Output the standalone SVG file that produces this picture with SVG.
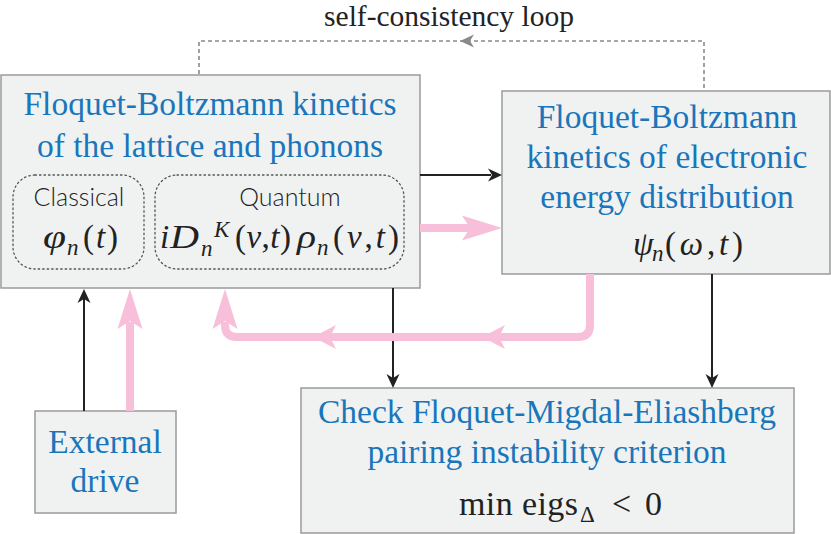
<svg xmlns="http://www.w3.org/2000/svg" xmlns:xlink="http://www.w3.org/1999/xlink" width="831" height="534" viewBox="0 0 831 534">
<style>
.box{fill:#f0f2f2;stroke:#9a9a9a;stroke-width:1.5}
.inner{fill:none;stroke:#555;stroke-width:1.3;stroke-dasharray:1.5 3;stroke-linecap:round}
.t{font-family:"Liberation Serif","Times New Roman",serif;font-size:33.5px;fill:#1a76bb;text-anchor:middle}
.m{font-family:"Liberation Serif","Times New Roman",serif;font-size:33px;fill:#222}
.mc{text-anchor:middle}
.it{font-style:italic}
.s{font-size:23px}
.sans{font-family:Lato,"Open Sans",sans-serif;font-weight:300;font-size:25px;fill:#222;text-anchor:middle}
.blk{stroke:#222;stroke-width:2;fill:none}
.pnk{stroke:#f8bfdb;stroke-width:8;fill:none}
.dsh{stroke:#8a8a8a;stroke-width:1.6;fill:none;stroke-dasharray:4 3}
</style>
<defs>
<path id="hb" d="M0,0 L-14,-6.5 L-10,0 L-14,6.5 Z" fill="#222"/>
<path id="hg" d="M0,0 L-14,-6.5 L-10,0 L-14,6.5 Z" fill="#8a8a8a"/>
<path id="hpl" d="M0,0 L-40,-12.5 L-32,0 L-40,12.5 Z" fill="#f8bfdb"/>
<path id="hps" d="M0,0 L-23,-12 L-17,0 L-23,12 Z" fill="#f8bfdb"/>
</defs>

<text x="449" y="26" class="m mc" style="font-size:29.5px">self-consistency loop</text>

<g id="lattice">
<rect class="box" x="1" y="75" width="419" height="213"/>
<text class="t" x="210" y="115">Floquet-Boltzmann kinetics</text>
<text class="t" x="210" y="157">of the lattice and phonons</text>
<g id="classical">
<rect class="inner" x="13" y="175" width="131" height="94" rx="22"/>
<text class="sans" x="79" y="206">Classical</text>
<text class="m it" x="43" y="248" textLength="23" lengthAdjust="spacingAndGlyphs">φ</text>
<text class="m it s" x="67" y="255">n</text>
<text class="m" x="83" y="248" textLength="35" lengthAdjust="spacing">(<tspan class="it">t</tspan>)</text>
</g>
<g id="quantum">
<rect class="inner" x="155" y="175" width="249" height="94" rx="22"/>
<text class="sans" x="290" y="206">Quantum</text>
<text class="m it" x="160" y="248">i</text>
<text class="m it" x="170" y="248" textLength="29" lengthAdjust="spacingAndGlyphs" style="font-size:34px">D</text>
<text class="m it s" x="214" y="237">K</text>
<text class="m it s" x="201" y="256">n</text>
<text class="m" x="235" y="248" textLength="56" lengthAdjust="spacing">(<tspan class="it">ν</tspan>,<tspan class="it">t</tspan>)</text>
<text class="m it" x="297" y="248" textLength="19" lengthAdjust="spacingAndGlyphs">ρ</text>
<text class="m it s" x="317" y="255">n</text>
<text class="m" x="333" y="248" textLength="66" lengthAdjust="spacing">(<tspan class="it">ν</tspan>,<tspan class="it">t</tspan>)</text>
</g>
</g>

<g id="electronic">
<rect class="box" x="502" y="91" width="328" height="183"/>
<text class="t" x="667" y="128">Floquet-Boltzmann</text>
<text class="t" x="667" y="168">kinetics of electronic</text>
<text class="t" x="667" y="208">energy distribution</text>
<text class="m it" x="633" y="255">ψ</text>
<text class="m it s" x="652" y="261">n</text>
<text class="m" x="665" y="255" textLength="78" lengthAdjust="spacing">(<tspan class="it">ω</tspan>,<tspan class="it">t</tspan>)</text>
</g>

<g id="drive">
<rect class="box" x="35" y="411" width="141" height="102"/>
<text class="t" x="105" y="453">External</text>
<text class="t" x="105" y="492">drive</text>
</g>

<g id="check">
<rect class="box" x="301" y="388" width="493" height="145"/>
<text class="t" x="547" y="423">Check Floquet-Migdal-Eliashberg</text>
<text class="t" x="547" y="463">pairing instability criterion</text>
<text class="m" x="459" y="515" textLength="119" lengthAdjust="spacing" style="font-size:34px">min eigs</text>
<text class="m s" x="580" y="522">Δ</text>
<text class="m" x="612" y="515" style="font-size:34px">&lt;</text>
<text class="m" x="645" y="515" style="font-size:34px">0</text>
</g>

<g id="connectors">
<path class="dsh" d="M199,74 V41 H704 V91"/>
<use xlink:href="#hg" transform="translate(460,41) rotate(180)"/>

<path class="blk" d="M420,175 H491"/>
<use xlink:href="#hb" transform="translate(502,175)"/>
<path class="blk" d="M393,288 V378"/>
<use xlink:href="#hb" transform="translate(393,388) rotate(90)"/>
<path class="blk" d="M712,274 V378"/>
<use xlink:href="#hb" transform="translate(712,388) rotate(90)"/>
<path class="blk" d="M84,411 V299"/>
<use xlink:href="#hb" transform="translate(84,289) rotate(-90)"/>

<path class="pnk" d="M420,228 H472"/>
<use xlink:href="#hpl" transform="translate(502,228)"/>
<path class="pnk" d="M130,411 V322"/>
<use xlink:href="#hpl" transform="translate(130,289) rotate(-90)"/>
<path class="pnk" d="M590,274 V325 Q590,337 578,337 H237 Q225,337 225,325 V322"/>
<use xlink:href="#hpl" transform="translate(225,289) rotate(-90)"/>
<use xlink:href="#hps" transform="translate(482,337) rotate(180)"/>
<use xlink:href="#hps" transform="translate(313,337) rotate(180)"/>
</g>
</svg>
